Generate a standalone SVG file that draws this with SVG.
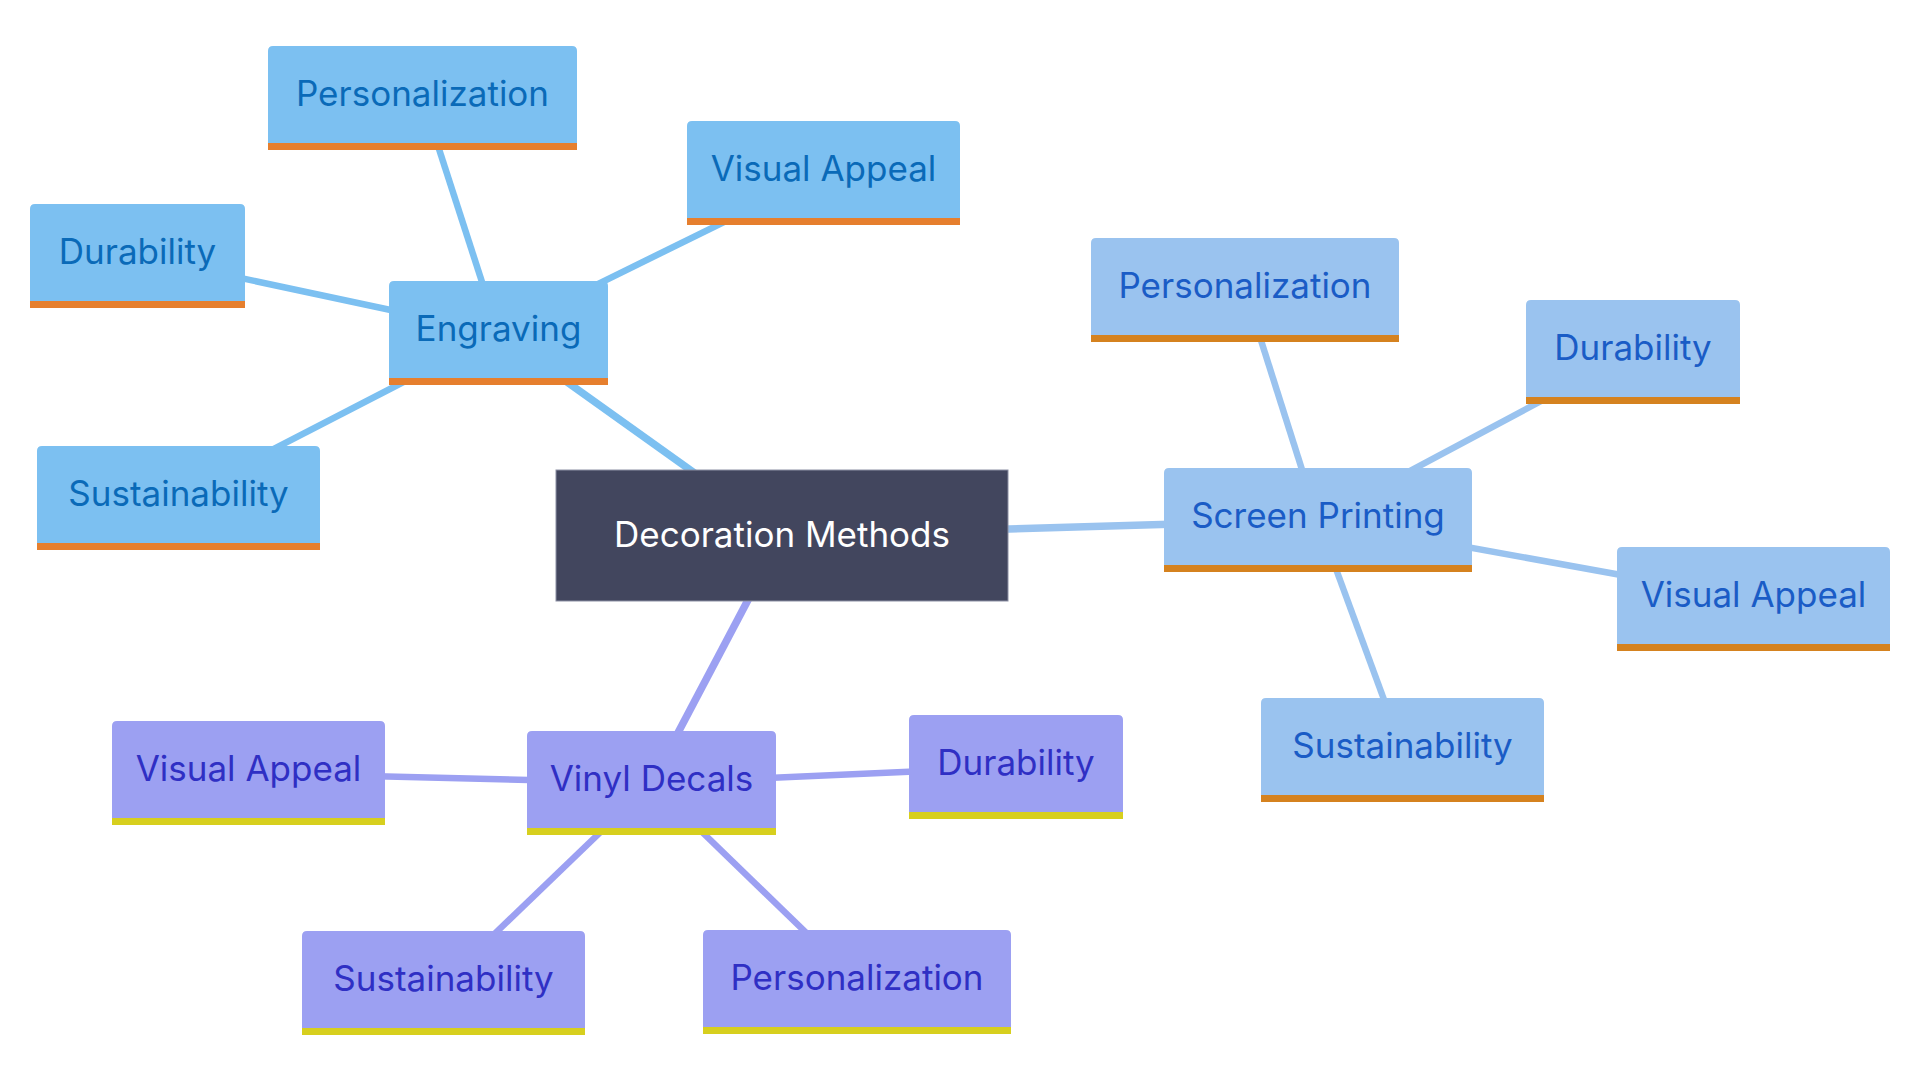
<svg xmlns="http://www.w3.org/2000/svg" width="1920" height="1080" viewBox="0 0 1920 1080">
<style>
text{font-family:Inter,"Noto Sans","Liberation Sans",sans-serif;font-size:35px;text-anchor:middle}
.e-fill{fill:#7cc0f1}.e-bar{fill:#e67f2e}.e-txt{fill:#0a6ab8}.e-edge{stroke:#7cc0f1}
.s-fill{fill:#9ac3ef}.s-bar{fill:#d5821f}.s-txt{fill:#1a5cc6}.s-edge{stroke:#9ac3ef}
.v-fill{fill:#9ca0f2}.v-bar{fill:#d7cf1e}.v-txt{fill:#2f2fc4}.v-edge{stroke:#9ca0f2}
.edge{stroke-width:6.5;fill:none}
.edge1{stroke-width:7.5}
.root{fill:#42465e;stroke:#8c90a4;stroke-width:1}
.root-txt{fill:#ffffff}
</style>
<rect width="1920" height="1080" fill="#ffffff"/>
<g id="connectors">
  <line class="edge edge1 e-edge" x1="782" y1="535.5" x2="498.5" y2="333"/>
  <line class="edge edge1 s-edge" x1="782" y1="535.5" x2="1318" y2="520"/>
  <line class="edge edge1 v-edge" x1="782" y1="535.5" x2="651.5" y2="783"/>
  <line class="edge e-edge" x1="498.5" y1="333" x2="422.5" y2="98"/>
  <line class="edge e-edge" x1="498.5" y1="333" x2="823.5" y2="173"/>
  <line class="edge e-edge" x1="498.5" y1="333" x2="137.5" y2="256"/>
  <line class="edge e-edge" x1="498.5" y1="333" x2="178.5" y2="498"/>
  <line class="edge s-edge" x1="1318" y1="520" x2="1245" y2="290"/>
  <line class="edge s-edge" x1="1318" y1="520" x2="1633" y2="352"/>
  <line class="edge s-edge" x1="1318" y1="520" x2="1753.5" y2="599"/>
  <line class="edge s-edge" x1="1318" y1="520" x2="1402.5" y2="750"/>
  <line class="edge v-edge" x1="651.5" y1="783" x2="248.5" y2="773"/>
  <line class="edge v-edge" x1="651.5" y1="783" x2="1016" y2="767"/>
  <line class="edge v-edge" x1="651.5" y1="783" x2="443.5" y2="983"/>
  <line class="edge v-edge" x1="651.5" y1="783" x2="857" y2="982"/>
</g>
<g id="root">
  <rect class="root" x="556" y="470" width="452" height="131"/>
  <text class="root-txt" x="782" y="547">Decoration Methods</text>
</g>
<g id="engraving">
  <path class="e-fill" d="M389,385 V286 Q389,281 394,281 H603 Q608,281 608,286 V385 Z"/>
  <rect class="e-bar" x="389" y="378" width="219" height="7"/>
  <text class="e-txt" x="498.5" y="341">Engraving</text>
</g>
<g id="engraving-personalization">
  <path class="e-fill" d="M268,150 V51 Q268,46 273,46 H572 Q577,46 577,51 V150 Z"/>
  <rect class="e-bar" x="268" y="143" width="309" height="7"/>
  <text class="e-txt" x="422.5" y="106">Personalization</text>
</g>
<g id="engraving-visual-appeal">
  <path class="e-fill" d="M687,225 V126 Q687,121 692,121 H955 Q960,121 960,126 V225 Z"/>
  <rect class="e-bar" x="687" y="218" width="273" height="7"/>
  <text class="e-txt" x="823.5" y="181">Visual Appeal</text>
</g>
<g id="engraving-durability">
  <path class="e-fill" d="M30,308 V209 Q30,204 35,204 H240 Q245,204 245,209 V308 Z"/>
  <rect class="e-bar" x="30" y="301" width="215" height="7"/>
  <text class="e-txt" x="137.5" y="264">Durability</text>
</g>
<g id="engraving-sustainability">
  <path class="e-fill" d="M37,550 V451 Q37,446 42,446 H315 Q320,446 320,451 V550 Z"/>
  <rect class="e-bar" x="37" y="543" width="283" height="7"/>
  <text class="e-txt" x="178.5" y="506">Sustainability</text>
</g>
<g id="screen-printing">
  <path class="s-fill" d="M1164,572 V473 Q1164,468 1169,468 H1467 Q1472,468 1472,473 V572 Z"/>
  <rect class="s-bar" x="1164" y="565" width="308" height="7"/>
  <text class="s-txt" x="1318" y="528">Screen Printing</text>
</g>
<g id="screen-personalization">
  <path class="s-fill" d="M1091,342 V243 Q1091,238 1096,238 H1394 Q1399,238 1399,243 V342 Z"/>
  <rect class="s-bar" x="1091" y="335" width="308" height="7"/>
  <text class="s-txt" x="1245" y="298">Personalization</text>
</g>
<g id="screen-durability">
  <path class="s-fill" d="M1526,404 V305 Q1526,300 1531,300 H1735 Q1740,300 1740,305 V404 Z"/>
  <rect class="s-bar" x="1526" y="397" width="214" height="7"/>
  <text class="s-txt" x="1633" y="360">Durability</text>
</g>
<g id="screen-visual-appeal">
  <path class="s-fill" d="M1617,651 V552 Q1617,547 1622,547 H1885 Q1890,547 1890,552 V651 Z"/>
  <rect class="s-bar" x="1617" y="644" width="273" height="7"/>
  <text class="s-txt" x="1753.5" y="607">Visual Appeal</text>
</g>
<g id="screen-sustainability">
  <path class="s-fill" d="M1261,802 V703 Q1261,698 1266,698 H1539 Q1544,698 1544,703 V802 Z"/>
  <rect class="s-bar" x="1261" y="795" width="283" height="7"/>
  <text class="s-txt" x="1402.5" y="758">Sustainability</text>
</g>
<g id="vinyl-decals">
  <path class="v-fill" d="M527,835 V736 Q527,731 532,731 H771 Q776,731 776,736 V835 Z"/>
  <rect class="v-bar" x="527" y="828" width="249" height="7"/>
  <text class="v-txt" x="651.5" y="791">Vinyl Decals</text>
</g>
<g id="vinyl-visual-appeal">
  <path class="v-fill" d="M112,825 V726 Q112,721 117,721 H380 Q385,721 385,726 V825 Z"/>
  <rect class="v-bar" x="112" y="818" width="273" height="7"/>
  <text class="v-txt" x="248.5" y="781">Visual Appeal</text>
</g>
<g id="vinyl-durability">
  <path class="v-fill" d="M909,819 V720 Q909,715 914,715 H1118 Q1123,715 1123,720 V819 Z"/>
  <rect class="v-bar" x="909" y="812" width="214" height="7"/>
  <text class="v-txt" x="1016" y="775">Durability</text>
</g>
<g id="vinyl-sustainability">
  <path class="v-fill" d="M302,1035 V936 Q302,931 307,931 H580 Q585,931 585,936 V1035 Z"/>
  <rect class="v-bar" x="302" y="1028" width="283" height="7"/>
  <text class="v-txt" x="443.5" y="991">Sustainability</text>
</g>
<g id="vinyl-personalization">
  <path class="v-fill" d="M703,1034 V935 Q703,930 708,930 H1006 Q1011,930 1011,935 V1034 Z"/>
  <rect class="v-bar" x="703" y="1027" width="308" height="7"/>
  <text class="v-txt" x="857" y="990">Personalization</text>
</g>
</svg>
